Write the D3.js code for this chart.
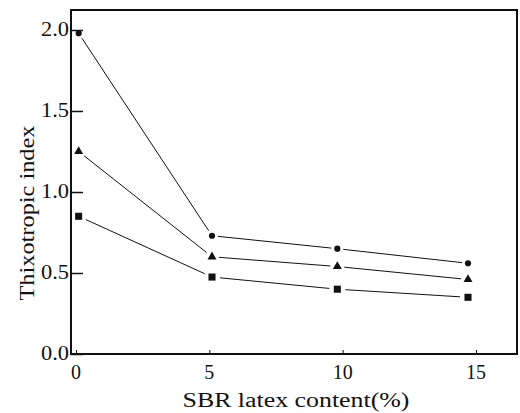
<!DOCTYPE html>
<html>
<head>
<meta charset="utf-8">
<script src="https://cdn.jsdelivr.net/npm/d3@7"></script>
</head>
<body style="margin:0; background:#fff">
<svg id="chart" width="520" height="413"></svg>
<script>
// data
let sbr_content = [0.1, 5.1, 9.8, 14.7];
let circle_vals = [1.98, 0.73, 0.65, 0.56];
let triangle_vals = [1.25, 0.60, 0.54, 0.46];
let square_vals = [0.85, 0.475, 0.40, 0.35];
let x_ticks = [0, 5, 10, 15];
let y_ticks = [0.0, 0.5, 1.0, 1.5, 2.0];

let serif = 'Liberation Serif';
let frame_left = 71, frame_right = 517, frame_top = 10, frame_bottom = 354;

let x = d3.scaleLinear().domain([0, 15]).range([76, 476]);
let y = d3.scaleLinear().domain([0, 2]).range([frame_bottom, 30]);

let svg = d3.select('#chart');

// frame
svg.append('rect')
    .attr('x', frame_left).attr('y', frame_top)
    .attr('width', frame_right - frame_left).attr('height', frame_bottom - frame_top)
    .attr('fill', 'none')
    .attr('stroke', '#111')
    .attr('stroke-width', 2);

// y axis (ticks inward)
let yAxis = d3.axisRight(y).tickValues(y_ticks).tickSize(12).tickFormat('');
svg.append('g')
    .attr('transform', 'translate(' + frame_left + ',0)')
    .call(yAxis)
    .call(g => g.select('.domain').remove())
    .call(g => g.selectAll('line').attr('stroke', '#111').attr('stroke-width', 1.5));

svg.append('g')
    .selectAll('text')
    .data(y_ticks)
    .join('text')
    .attr('x', frame_left - 2)
    .attr('y', d => y(d) + 6)
    .attr('text-anchor', 'end')
    .attr('font-family', serif)
    .attr('font-size', '20px')
    .attr('fill', '#111')
    .attr('textLength', 28)
    .attr('lengthAdjust', 'spacingAndGlyphs')
    .text(d => d.toFixed(1));

// x axis (ticks inward)
let xAxis = d3.axisTop(x).tickValues(x_ticks).tickSize(4).tickFormat('');
svg.append('g')
    .attr('transform', 'translate(0,' + frame_bottom + ')')
    .call(xAxis)
    .call(g => g.select('.domain').remove())
    .call(g => g.selectAll('line').attr('stroke', '#111'));

svg.append('g')
    .selectAll('text')
    .data(x_ticks)
    .join('text')
    .attr('x', d => x(d))
    .attr('y', 379)
    .attr('text-anchor', 'middle')
    .attr('font-family', serif)
    .attr('font-size', '20px')
    .attr('fill', '#111')
    .text(d => d);

// axis titles
svg.append('text')
    .attr('x', 296)
    .attr('y', 407)
    .attr('text-anchor', 'middle')
    .attr('font-family', serif)
    .attr('font-size', '20px')
    .attr('fill', '#111')
    .attr('textLength', 227)
    .attr('lengthAdjust', 'spacingAndGlyphs')
    .text('SBR latex content(%)');

svg.append('text')
    .attr('transform', 'translate(34,213) rotate(-90)')
    .attr('text-anchor', 'middle')
    .attr('font-family', serif)
    .attr('font-size', '20px')
    .attr('fill', '#111')
    .attr('textLength', 175)
    .attr('lengthAdjust', 'spacingAndGlyphs')
    .text('Thixotropic index');

// series
let series = [
    { name: 'circle', vals: circle_vals, gap: 6 },
    { name: 'triangle', vals: triangle_vals, gap: 7 },
    { name: 'square', vals: square_vals, gap: 8 }
];

series.forEach(s => {
    let pts = sbr_content.map((v, i) => [x(v), y(s.vals[i])]);

    // line segments that stop short of the markers
    let segs = d3.pairs(pts).map(([a, b]) => {
        let dx = b[0] - a[0], dy = b[1] - a[1];
        let len = Math.sqrt(dx * dx + dy * dy);
        let ux = dx / len, uy = dy / len;
        return [[a[0] + ux * s.gap, a[1] + uy * s.gap], [b[0] - ux * s.gap, b[1] - uy * s.gap]];
    });

    svg.append('g')
        .selectAll('path')
        .data(segs)
        .join('path')
        .attr('d', d3.line())
        .attr('stroke', '#111')
        .attr('stroke-width', 1)
        .attr('fill', 'none');

    let sym = s.name == 'circle' ? d3.symbolCircle : (s.name == 'triangle' ? d3.symbolTriangle : d3.symbolSquare);
    let size = s.name == 'circle' ? 30 : (s.name == 'triangle' ? 35 : 50);

    svg.append('g')
        .selectAll('path')
        .data(pts)
        .join('path')
        .attr('transform', d => 'translate(' + d[0] + ',' + d[1] + ')')
        .attr('d', d3.symbol().type(sym).size(size))
        .attr('fill', '#111');
});
</script>
</body>
</html>
